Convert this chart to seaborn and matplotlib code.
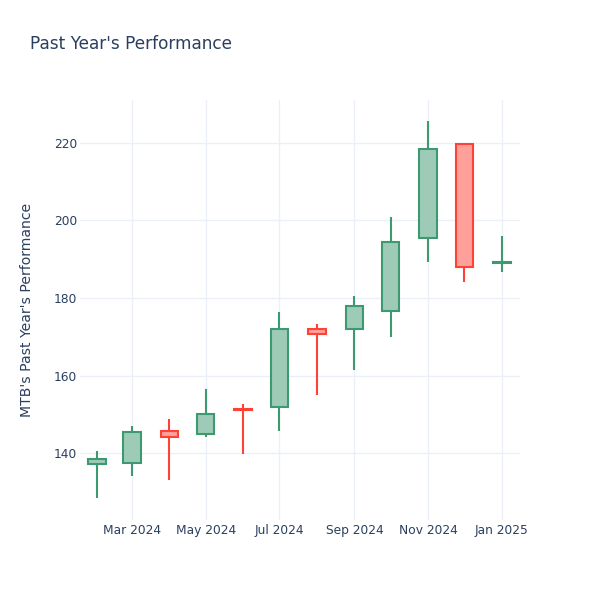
import matplotlib
matplotlib.use("Agg")
import matplotlib.pyplot as plt
import matplotlib.dates as mdates
import numpy as np
import pandas as pd
import seaborn as sns

# monthly candles
months = ["2024-02-01", "2024-03-01", "2024-04-01", "2024-05-01", "2024-06-01", "2024-07-01",
          "2024-08-01", "2024-09-01", "2024-10-01", "2024-11-01", "2024-12-01", "2025-01-01"]
open_ = [137.3, 137.4, 145.6, 144.9, 151.5, 151.8, 172.1, 172.0, 176.6, 195.5, 219.6, 189.0]
close = [138.5, 145.4, 144.3, 150.2, 151.2, 172.1, 170.7, 178.0, 194.5, 218.4, 188.1, 189.3]
high = [140.6, 146.9, 148.8, 156.6, 152.7, 176.4, 173.3, 180.4, 200.9, 225.6, 219.6, 196.0]
low = [128.4, 134.2, 133.1, 144.3, 139.8, 145.8, 155.1, 161.5, 170.0, 189.2, 184.2, 186.6]

df = pd.DataFrame({"date": pd.to_datetime(months), "open": open_, "close": close,
                   "high": high, "low": low})

sns.set_theme(style="white")
plt.rcParams['font.family'] = ['DejaVu Sans']

text_col = "#2a3f5f"
up_line, up_fill = "#3D9970", "#9ecbb7"
dn_line, dn_fill = "#FF4136", "#ffa09a"
grid_col = "#ebf0f8"

fig = plt.figure(figsize=(6, 6), dpi=100)
ax = fig.add_axes([80 / 600, 80 / 600, 440 / 600, 420 / 600])

lw = 1.5
x = mdates.date2num(df["date"])
width = 14.5
for xi, o, c, h, l in zip(x, df["open"], df["close"], df["high"], df["low"]):
    up = c >= o
    lc = up_line if up else dn_line
    fc = up_fill if up else dn_fill
    lo, hi = min(o, c), max(o, c)
    ax.vlines(xi, l, lo, color=lc, lw=lw, zorder=3)
    ax.vlines(xi, hi, h, color=lc, lw=lw, zorder=3)
    ax.bar(xi, hi - lo, bottom=lo, width=width, color=fc, edgecolor=lc,
           linewidth=lw, zorder=4)

ax.set_xlim(mdates.date2num(pd.Timestamp("2024-01-18")),
            mdates.date2num(pd.Timestamp("2025-01-16")))
ax.set_ylim(122.8, 231.0)
ax.set_yticks([140, 160, 180, 200, 220])
ax.xaxis.set_major_locator(mdates.MonthLocator(bymonth=[1, 3, 5, 7, 9, 11]))
ax.xaxis.set_major_formatter(mdates.DateFormatter("%b %Y"))

ax.grid(True, color=grid_col, lw=1.0, zorder=0)
ax.set_axisbelow(True)
for s in ax.spines.values():
    s.set_visible(False)
ax.tick_params(axis="both", length=0, labelsize=8.8, labelcolor=text_col)
ax.tick_params(axis="y", pad=2)
ax.tick_params(axis="x", pad=3)

fig.text(30 / 600, 1 - 44 / 600, "Past Year's Performance", fontsize=12.2,
         color=text_col, ha="left", va="center")
fig.text(27 / 600, 1 - 310 / 600, "MTB's Past Year's Performance", fontsize=10.1,
         color=text_col, ha="center", va="center", rotation=90)

fig.savefig("out.png", dpi=100, facecolor="white")
